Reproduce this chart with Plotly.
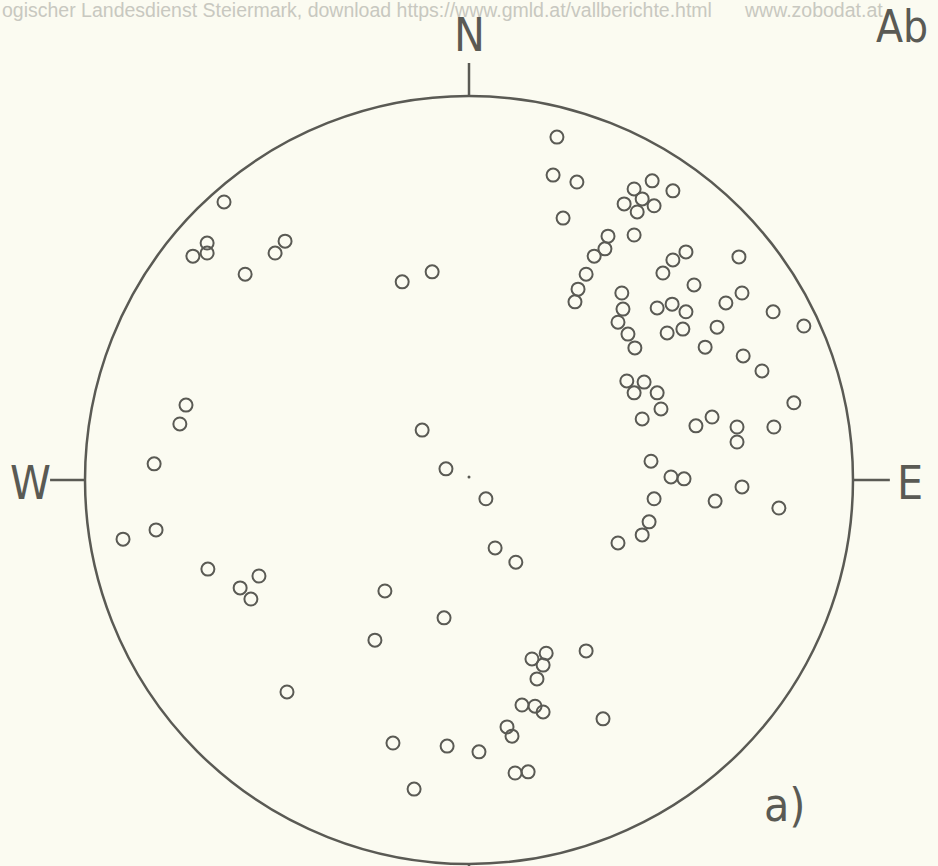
import plotly.graph_objects as go

# Projected pole positions in unit-circle coordinates (east = +x, north = +y)
pole_x = [-0.638, -0.682, -0.682, -0.719, -0.479, -0.505, -0.583, -0.174, -0.096,
          0.229, 0.219, 0.281, 0.245, 0.477, 0.430, 0.531, 0.451, 0.404, 0.438, 0.482,
          0.430, 0.362, 0.354, 0.326, 0.305, 0.284, 0.276, 0.565, 0.531, 0.505, 0.586,
          0.398, 0.401, 0.388, 0.414, 0.490, 0.529, 0.565, 0.516, 0.557, 0.703, 0.711,
          0.669, 0.792, 0.646, 0.872, 0.615, 0.432, 0.714, 0.763, 0.411, 0.456, 0.430,
          0.490, 0.500, 0.451, 0.846, 0.591, 0.633, 0.698, 0.698, 0.794, 0.474, 0.526,
          0.560, 0.482, 0.641, 0.711, 0.807, 0.469, 0.451, 0.388,
          -0.737, -0.753, -0.820, -0.815, -0.901, -0.680, -0.547, -0.596, -0.568,
          -0.122, -0.060, 0.044, 0.068, 0.122, -0.219, -0.065, -0.245,
          0.164, 0.201, 0.193, 0.177, 0.305, 0.138, 0.172, 0.193, 0.349, 0.099, 0.112,
          -0.198, -0.057, 0.026, 0.120, 0.154, -0.143, -0.474]
pole_y = [0.724, 0.617, 0.591, 0.583, 0.622, 0.591, 0.536, 0.516, 0.542,
          0.893, 0.794, 0.776, 0.682, 0.779, 0.758, 0.753, 0.732, 0.719, 0.698, 0.714,
          0.638, 0.635, 0.602, 0.583, 0.536, 0.497, 0.464, 0.594, 0.573, 0.539, 0.508,
          0.487, 0.445, 0.411, 0.380, 0.448, 0.458, 0.438, 0.383, 0.393, 0.581, 0.487,
          0.461, 0.438, 0.398, 0.401, 0.346, 0.344, 0.323, 0.284, 0.258, 0.255, 0.227,
          0.227, 0.185, 0.159, 0.201, 0.141, 0.164, 0.138, 0.099, 0.138, 0.049, 0.008,
          0.003, -0.049, -0.055, -0.018, -0.073, -0.109, -0.143, -0.164,
          0.195, 0.146, 0.042, -0.130, -0.154, -0.232, -0.250, -0.281, -0.310,
          0.130, 0.029, -0.049, -0.177, -0.214, -0.289, -0.359, -0.417,
          -0.466, -0.451, -0.482, -0.518, -0.445, -0.586, -0.589, -0.604, -0.622, -0.643, -0.667,
          -0.685, -0.693, -0.708, -0.763, -0.760, -0.805, -0.552]

center_x = [0.0]
center_y = [0.008]

ink = "#5a5a54"
bg = "#fbfbf1"

fig = go.Figure()
fig.add_trace(go.Scatter(x=pole_x, y=pole_y, mode="markers",
                         marker=dict(symbol="circle-open", size=13, color=ink,
                                     line=dict(width=2, color=ink)),
                         hoverinfo="skip", showlegend=False))
fig.add_trace(go.Scatter(x=center_x, y=center_y, mode="markers",
                         marker=dict(symbol="circle", size=3, color=ink),
                         hoverinfo="skip", showlegend=False))

# primitive circle and direction ticks
fig.add_shape(type="circle", xref="x", yref="y", x0=-1, y0=-1, x1=1, y1=1,
              line=dict(color=ink, width=2.5))
for x0, y0, x1, y1 in [(0, 1, 0, 1.086), (-1, 0.0, -1.091, 0.0),
                       (1, 0.0, 1.096, 0.0), (0, -1, 0, -1.09)]:
    fig.add_shape(type="line", xref="x", yref="y", x0=x0, y0=y0, x1=x1, y1=y1,
                  line=dict(color=ink, width=2.5))

lab_font = dict(family="DejaVu Sans Condensed, Liberation Sans, Arial", size=46, color=ink)
labels = [("N", 0.0, 1.16, 46), ("Ab", 1.128, 1.18, 44), ("W", -1.143, -0.008, 46),
          ("E", 1.148, -0.008, 46), ("a)", 0.823, -0.846, 46)]
for t, x, y, s in labels:
    fig.add_annotation(x=x, y=y, xref="x", yref="y", text=t, showarrow=False,
                       font=dict(lab_font, size=s), xanchor="center", yanchor="middle")

wm_font = dict(family="Liberation Sans, Arial", size=19.5, color="#c8c8c0")
fig.add_annotation(x=0, y=1.004, xref="paper", yref="paper", xanchor="left", yanchor="top",
                   text="ogischer Landesdienst Steiermark, download https://www.gmld.at/vallberichte.html",
                   showarrow=False, font=wm_font)
fig.add_annotation(x=742 / 938, y=1.004, xref="paper", yref="paper", xanchor="left", yanchor="top",
                   text="www.zobodat.at", showarrow=False, font=wm_font)

fig.update_layout(width=938, height=866, margin=dict(l=0, r=0, t=0, b=0),
                  paper_bgcolor=bg, plot_bgcolor=bg, showlegend=False)
fig.update_xaxes(range=[-1.2214, 1.2214], visible=False, fixedrange=True)
fig.update_yaxes(range=[-1.0052, 1.25], visible=False, fixedrange=True)

fig.write_html("out.html", config={"displayModeBar": False, "staticPlot": True},
               post_script="document.body.style.margin='0';document.body.style.background='%s';" % bg)
